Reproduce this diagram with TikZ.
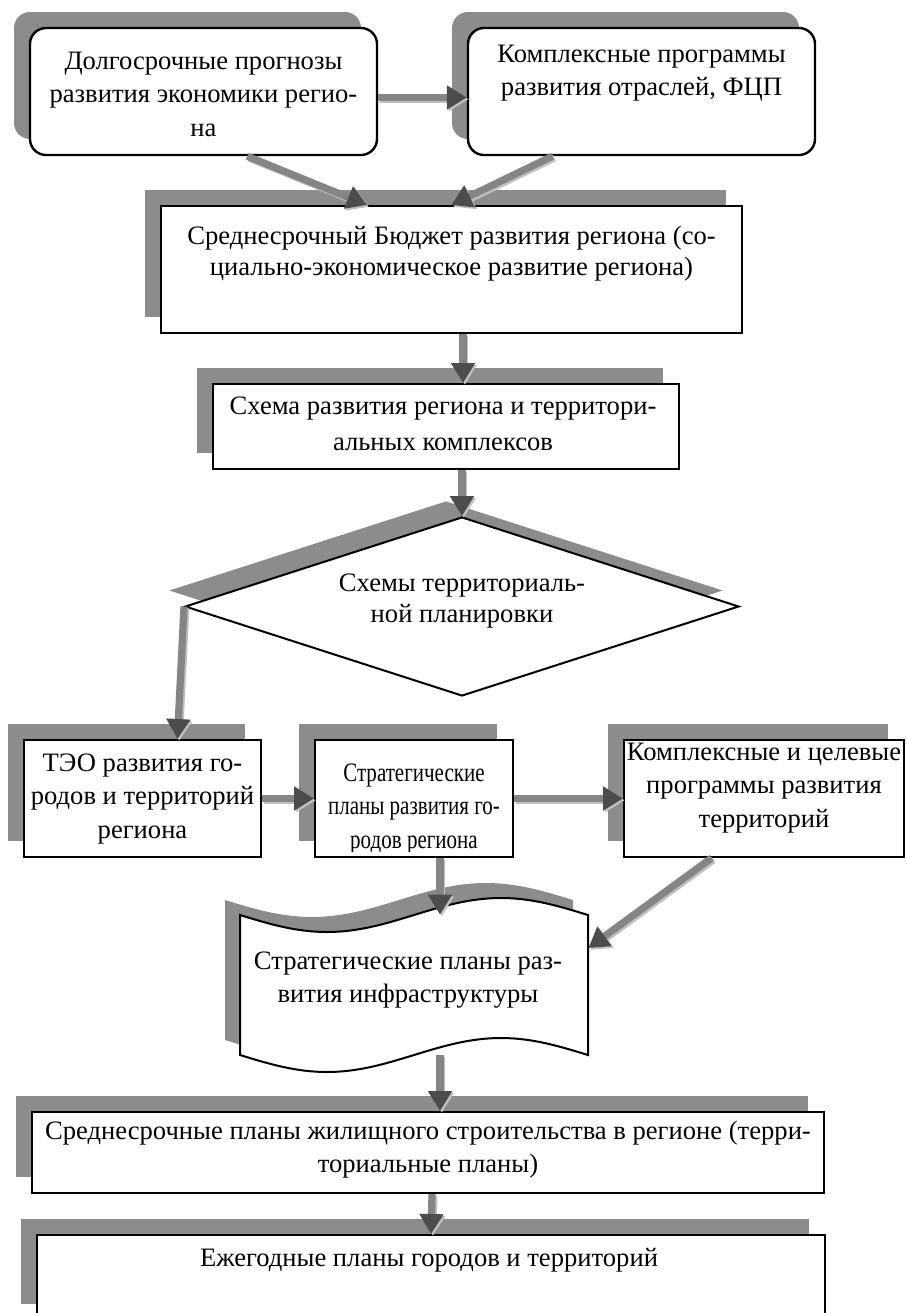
\documentclass[tikz,border=0pt]{standalone}
\usepackage{fontspec}
\setmainfont{Liberation Serif}
\newfontfamily\condfont[FakeStretch=0.79]{Liberation Serif}
\usetikzlibrary{arrows.meta,shapes.geometric,shadows,calc}
\definecolor{shgray}{gray}{0.55}
\definecolor{arrgray}{gray}{0.52}
\definecolor{headgray}{gray}{0.3}
\definecolor{lightg}{gray}{0.75}
\begin{document}
\begin{tikzpicture}[x=0.5pt,y=-0.5pt,
  shad/.style={drop shadow={shadow xshift=-8pt,shadow yshift=8pt,fill=shgray,opacity=1}},
  rbox/.style={rectangle,draw=black,line width=1.2pt,fill=white,rounded corners=8pt,inner sep=0pt,shad},
  sbox/.style={rectangle,draw=black,line width=1pt,fill=white,inner sep=0pt,shad},
  txt/.style={align=center,inner sep=0pt,anchor=north,font=\fontsize{13.3}{16.75}\selectfont},
  arr/.style={line width=3.6pt,draw=arrgray,-{Triangle[length=10pt,width=11.5pt,color=headgray]},
    preaction={draw=lightg,line width=3.6pt,transform canvas={shift={(0.9pt,-0.9pt)}},-{Triangle[length=10pt,width=11.5pt,color=lightg]}}}]
\useasboundingbox (0,0) rectangle (906,1313);
\fill[white] (0,0) rectangle (906,1313);

% top row
\node[rbox,minimum width=173.5pt,minimum height=63.5pt] (b1) at (203.5,91.5) {};
\node[rbox,minimum width=173.5pt,minimum height=63.5pt] (b2) at (641.5,91.5) {};
\node[txt] (t1) at (203.5,45.5) {\strut Долгосрочные прогнозы\\развития экономики регио-\\на};
\node[txt] (t2) at (641.5,38.5) {\strut Комплексные программы\\развития отраслей, ФЦП};

% budget
\node[sbox,minimum width=290.5pt,minimum height=63.5pt] (b3) at (451.5,269.5) {};
\node[txt,font=\fontsize{13.3}{15.5}\selectfont] (t3) at (451.5,222.5) {\strut Среднесрочный Бюджет развития региона (со-\\циально-экономическое развитие региона)};

% scheme
\node[sbox,minimum width=233pt,minimum height=42.5pt] (b4) at (446,426.5) {};
\node[txt,font=\fontsize{13.3}{18}\selectfont] (t4) at (443,389) {\strut Схема развития региона и территори-\\альных комплексов};

% diamond
\node[diamond,draw=black,line width=1pt,fill=white,inner sep=0pt,minimum width=277pt,minimum height=89.5pt,shad] (dia) at (462,606.5) {};
\node[txt,font=\fontsize{13.3}{15.5}\selectfont] (t5) at (462,569) {\strut Схемы территориаль-\\ной планировки};

% row
\node[sbox,minimum width=118.5pt,minimum height=58.5pt] (tb) at (142.5,798.5) {};
\node[sbox,minimum width=99pt,minimum height=58.5pt] (sb) at (414,798.5) {};
\node[sbox,minimum width=140pt,minimum height=58.5pt] (kb) at (764,798.5) {};
\node[txt] (t6) at (142.5,747.5) {\strut ТЭО развития го-\\родов и территорий\\региона};
\begin{scope}
\clip (315,740) rectangle (513,851);
\node[txt,font=\condfont\fontsize{13.3}{16.75}\selectfont] (t7) at (414,757.5) {\strut Стратегические\\планы развития го-\\родов региона};
\end{scope}
\node[txt] (t8) at (764,736.5) {\strut Комплексные и целевые\\программы развития\\территорий};

% document (punched tape)
\fill[shgray,shift={(-15,-15)}] (240,915) sin (327,932) cos (414,915) sin (501,898) cos (588,915)
  -- (588,1055) sin (501,1038) cos (414,1055) sin (327,1072) cos (240,1055) -- cycle;
\draw[line width=1pt,fill=white] (240,915) sin (327,932) cos (414,915) sin (501,898) cos (588,915)
  -- (588,1055) sin (501,1038) cos (414,1055) sin (327,1072) cos (240,1055) -- cycle;
\node[rectangle,inner sep=0pt,minimum width=174pt,minimum height=70pt] (doc) at (414,985) {};
\node[txt] (t9) at (408,945.5) {\strut Стратегические планы раз-\\вития инфраструктуры};

% bottom boxes
\node[sbox,minimum width=396pt,minimum height=40.5pt] (b5) at (428,1152.5) {};
\node[txt] (t10) at (428,1115.5) {\strut Среднесрочные планы жилищного строительства в регионе (терри-\\ториальные планы)};
\node[sbox,minimum width=394pt,minimum height=42.5pt] (b6) at (431,1277.5) {};
\node[txt] (t11) at (429,1242.5) {\strut Ежегодные планы городов и территорий};

% connectors
\draw[arr] ([yshift=-3pt]b1.east) -- ([yshift=-3pt]b2.west);
\draw[arr] ($(b1.south west)!0.625!(b1.south east)$) -- ($(b3.north west)!0.355!(b3.north east)$);
\draw[arr] ($(b2.south west)!0.245!(b2.south east)$) -- ($(b3.north west)!0.5!(b3.north east)$);
\draw[arr] ([xshift=5.75pt]b3.south) -- ([xshift=8.5pt]b4.north);
\draw[arr] ([xshift=8pt]b4.south) -- (dia.north);
\draw[arr] (dia.west) -- ($(tb.north west)!0.646!(tb.north east)$);
\draw[arr] (tb.east) -- (sb.west);
\draw[arr] (sb.east) -- (kb.west);
\draw[arr] ([xshift=13pt]sb.south) -- ([xshift=13pt]doc.north);
\draw[arr] ($(kb.south west)!0.314!(kb.south east)$) -- ([yshift=18.5pt]doc.east);
\draw[arr] ([xshift=13pt]doc.south) -- ([xshift=6pt]b5.north);
\draw[arr] ([xshift=2pt]b5.south) -- (b6.north);
\end{tikzpicture}
\end{document}
